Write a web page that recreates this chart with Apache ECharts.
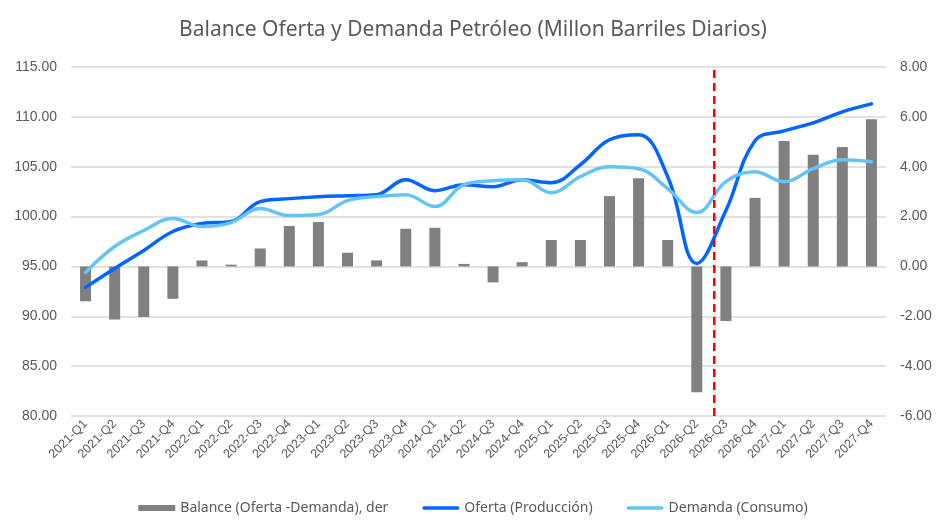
<!DOCTYPE html>
<html lang="es">
<head>
    <meta charset="UTF-8">
    <title>Balance Oferta y Demanda Petróleo</title>
    <script src="https://cdn.jsdelivr.net/npm/echarts@6/dist/echarts.min.js"></script>
    <style>
        html, body { margin: 0; padding: 0; background: #fff; }
    </style>
</head>
<body>
<div id="main" style="width: 946px; height: 532px"></div>
</body>
<script>
    let quarters = ['2021-Q1','2021-Q2','2021-Q3','2021-Q4','2022-Q1','2022-Q2','2022-Q3','2022-Q4',
        '2023-Q1','2023-Q2','2023-Q3','2023-Q4','2024-Q1','2024-Q2','2024-Q3','2024-Q4',
        '2025-Q1','2025-Q2','2025-Q3','2025-Q4','2026-Q1','2026-Q2','2026-Q3','2026-Q4',
        '2027-Q1','2027-Q2','2027-Q3','2027-Q4'];
    // balance, eje derecho
    let balance = [-1.40,-2.13,-2.03,-1.30,0.24,0.07,0.72,1.62,
        1.78,0.55,0.24,1.51,1.55,0.10,-0.64,0.17,
        1.06,1.06,2.82,3.54,1.06,-5.05,-2.19,2.75,
        5.03,4.48,4.79,5.90];
    let oferta = [92.9,94.8,96.6,98.5,99.3,99.5,101.5,101.8,
        102.0,102.1,102.2,103.7,102.6,103.2,103.0,103.7,
        103.4,105.2,107.7,108.2,104.0,95.3,100.6,107.6,
        108.6,109.4,110.5,111.3];
    let demanda = [94.4,97.0,98.6,99.8,99.0,99.4,100.8,100.1,
        100.2,101.6,102.0,102.2,101.0,103.2,103.6,103.7,
        102.4,104.0,105.0,104.8,102.8,100.4,103.5,104.5,
        103.5,104.8,105.7,105.5];
    // linea de proyeccion (posicion en categorias)
    let corte = [[22.1, 80], [22.1, 115]];

    let txt = '#595959';
    let lineIcon = 'path://M2,0 L38,0 A2,2 0 0 1 38,4 L2,4 A2,2 0 0 1 2,0 Z';
    let myChart = echarts.init(document.getElementById('main'));
    let option = {
        animation: false,
        title: {
            text: 'Balance Oferta y Demanda Petróleo (Millon Barriles Diarios)',
            left: 'center',
            top: 15,
            textStyle: {color: txt, fontSize: 21, fontWeight: 'normal', fontFamily: 'Noto Sans'}
        },
        legend: {
            bottom: 12,
            left: 'center',
            itemGap: 34,
            itemWidth: 37,
            itemHeight: 6,
            textStyle: {color: txt, fontSize: 14, fontFamily: 'Noto Sans'},
            data: [
                {name: 'Balance (Oferta -Demanda), der', icon: 'rect'},
                {name: 'Oferta (Producción)', icon: lineIcon},
                {name: 'Demanda (Consumo)', icon: lineIcon}
            ]
        },
        grid: {left: 71, right: 60, top: 67, bottom: 116},
        xAxis: [
            {
                type: 'category',
                data: quarters,
                axisLine: {show: false},
                axisTick: {show: false},
                axisLabel: {
                    rotate: 45, interval: 0, color: txt, fontSize: 12.5,
                    fontFamily: 'Liberation Sans', margin: 6
                }
            },
            {
                type: 'value', min: 0, max: 28, show: false
            }
        ],
        yAxis: [
            {
                type: 'value', min: 80, max: 115, interval: 5,
                axisLine: {show: false}, axisTick: {show: false},
                axisLabel: {color: txt, fontSize: 14, fontFamily: 'Liberation Sans', margin: 14,
                    formatter: function (v) { return v.toFixed(2); }},
                splitLine: {lineStyle: {color: '#D9D9D9', width: 1.5}}
            },
            {
                type: 'value', min: -6, max: 8, interval: 2,
                axisLine: {show: false}, axisTick: {show: false},
                axisLabel: {color: txt, fontSize: 14, fontFamily: 'Liberation Sans', margin: 14,
                    formatter: function (v) { return v.toFixed(2); }},
                splitLine: {show: false}
            }
        ],
        series: [
            {
                name: 'Balance (Oferta -Demanda), der',
                type: 'bar',
                yAxisIndex: 1,
                data: balance,
                barWidth: 11,
                itemStyle: {color: '#808080'}
            },
            {
                name: 'Oferta (Producción)',
                type: 'line',
                data: oferta,
                smooth: 0.4,
                symbol: 'none',
                lineStyle: {color: '#0066FF', width: 3.5, cap: 'round'},
                itemStyle: {color: '#0066FF'}
            },
            {
                name: 'Demanda (Consumo)',
                type: 'line',
                data: demanda,
                smooth: 0.4,
                symbol: 'none',
                lineStyle: {color: '#63C4F5', width: 3.5, cap: 'round'},
                itemStyle: {color: '#63C4F5'}
            },
            {
                name: 'corte',
                type: 'line',
                xAxisIndex: 1,
                data: corte,
                symbol: 'none',
                silent: true,
                lineStyle: {color: '#FF0000', width: 2.5, type: [8, 5]},
                z: 5
            }
        ]
    };
    myChart.setOption(option);
</script>
</html>
